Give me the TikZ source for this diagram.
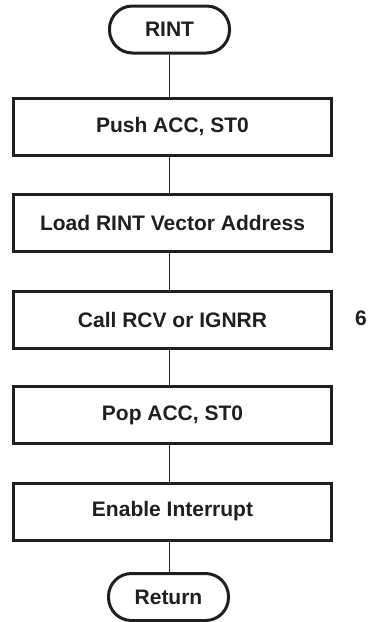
\documentclass[tikz,border=0pt]{standalone}
\usepackage{fontspec}
\setmainfont{Liberation Sans}
\begin{document}
\begin{tikzpicture}[x=1pt,y=-1pt,
  txt/.style={font=\fontsize{21}{25}\selectfont\bfseries, text=black!88},
  stepbox/.style={draw=black!88, line width=3pt, minimum width=318pt, minimum height=57pt, inner sep=0pt, txt},
  term/.style={draw=black!88, line width=3pt, rounded corners=23pt, minimum width=120pt, minimum height=47pt, inner sep=0pt, txt},
  link/.style={draw=black!88, line width=1pt}]
\useasboundingbox (0,0) rectangle (370,622);
\node[term]    (start) at (169.5,29.5) {RINT};
\node[stepbox] (push)  at (172.5,127)  {Push ACC, ST0};
\node[stepbox] (load)  at (172.5,223)  {Load RINT Vector Address};
\node[stepbox] (call)  at (172.5,319.5){Call RCV or IGNRR};
\node[stepbox] (pop)   at (172.5,415)  {Pop ACC, ST0};
\node[stepbox] (ena)   at (172.5,511.5){Enable Interrupt};
\node[term]    (ret)   at (168.5,597)  {Return};
\node[txt]     (num)   at (361,318)    {6};
\draw[link] (start.south) -- (start.south |- push.north);
\draw[link] (start.south |- push.south) -- (start.south |- load.north);
\draw[link] (start.south |- load.south) -- (start.south |- call.north);
\draw[link] (start.south |- call.south) -- (start.south |- pop.north);
\draw[link] (start.south |- pop.south) -- (start.south |- ena.north);
\draw[link] (start.south |- ena.south) -- (start.south |- ret.north);
\end{tikzpicture}
\end{document}
